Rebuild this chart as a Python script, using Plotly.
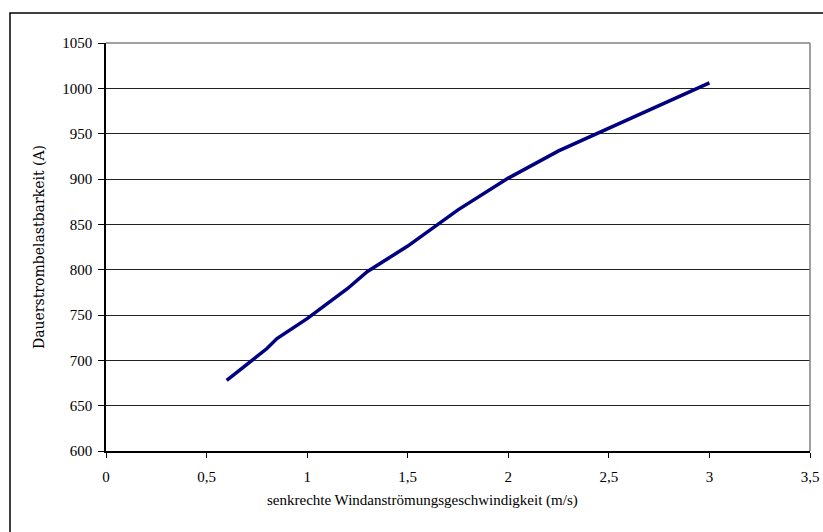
import plotly.graph_objects as go

wind_speed = [0.6, 0.7, 0.8, 0.85, 0.9, 1.0, 1.2, 1.3, 1.4, 1.5, 1.75, 2.0, 2.25, 2.5, 2.75, 3.0]
current = [678, 696, 713, 724, 731, 746, 779, 798, 812, 826, 866, 901, 931, 956, 981, 1006]

x_tickvals = [0, 0.5, 1, 1.5, 2, 2.5, 3, 3.5]
x_ticktext = ["0", "0,5", "1", "1,5", "2", "2,5", "3", "3,5"]
y_tickvals = [600, 650, 700, 750, 800, 850, 900, 950, 1000, 1050]

W, H = 823, 532
ml, mr, mt, mb = 106, 13, 43, 81
pw, ph = W - ml - mr, H - mt - mb

def px_to_paper_x(px):
    return (px - ml) / pw

def px_to_paper_y(py):
    return (H - mb - py) / ph

fig = go.Figure()
fig.add_trace(go.Scatter(
    x=wind_speed, y=current, mode="lines",
    line=dict(color="#000080", width=3.5),
    showlegend=False, hoverinfo="x+y",
))

font = dict(family="Liberation Serif, Times New Roman, serif", size=15, color="#000000")
yfont = dict(family="DejaVu Serif, serif", size=14, color="#000000")

fig.update_layout(
    width=W, height=H,
    margin=dict(l=ml, r=mr, t=mt, b=mb, autoexpand=False),
    paper_bgcolor="white", plot_bgcolor="white",
    font=font,
    xaxis=dict(
        range=[0, 3.5], tickvals=x_tickvals, ticktext=x_ticktext,
        showgrid=False, zeroline=False, automargin=False,
        showline=True, linecolor="#000000", linewidth=1.5,
        ticks="outside", ticklen=5, tickcolor="#000000", tickwidth=1,
        ticklabelstandoff=6, ticklabeloverflow="allow",
        tickfont=font,
    ),
    yaxis=dict(
        range=[600, 1050], tickvals=y_tickvals,
        showgrid=True, gridcolor="#222222", gridwidth=1.2,
        zeroline=False, automargin=False,
        showline=True, linecolor="#000000", linewidth=1.5,
        ticks="outside", ticklen=6, tickcolor="#000000", tickwidth=1,
        ticklabelstandoff=3,
        title=dict(text="Dauerstrombelastbarkeit (A)", font=yfont, standoff=14),
        tickfont=font,
    ),
    annotations=[dict(
        text="senkrechte Windanströmungsgeschwindigkeit (m/s)",
        xref="paper", yref="paper",
        x=px_to_paper_x(422), y=px_to_paper_y(500),
        xanchor="center", yanchor="middle", showarrow=False, font=font,
    )],
)

# top and right plot-area border (gray)
fig.add_shape(type="line", xref="paper", yref="paper", x0=0, x1=1, y0=1, y1=1,
              line=dict(color="#808080", width=1.5))
fig.add_shape(type="line", xref="paper", yref="paper", x0=1, x1=1, y0=0, y1=1,
              line=dict(color="#808080", width=1.5))

# outer chart border
fig.add_shape(type="rect", xref="paper", yref="paper",
              x0=px_to_paper_x(10), x1=px_to_paper_x(840),
              y0=px_to_paper_y(550), y1=px_to_paper_y(13),
              line=dict(color="#000000", width=1.5), fillcolor="rgba(0,0,0,0)",
              layer="above")

post = (
    "document.body.style.margin='0';"
    "document.body.style.overflow='hidden';"
)

fig.write_html("out.html", post_script=post, config={"displayModeBar": False})
